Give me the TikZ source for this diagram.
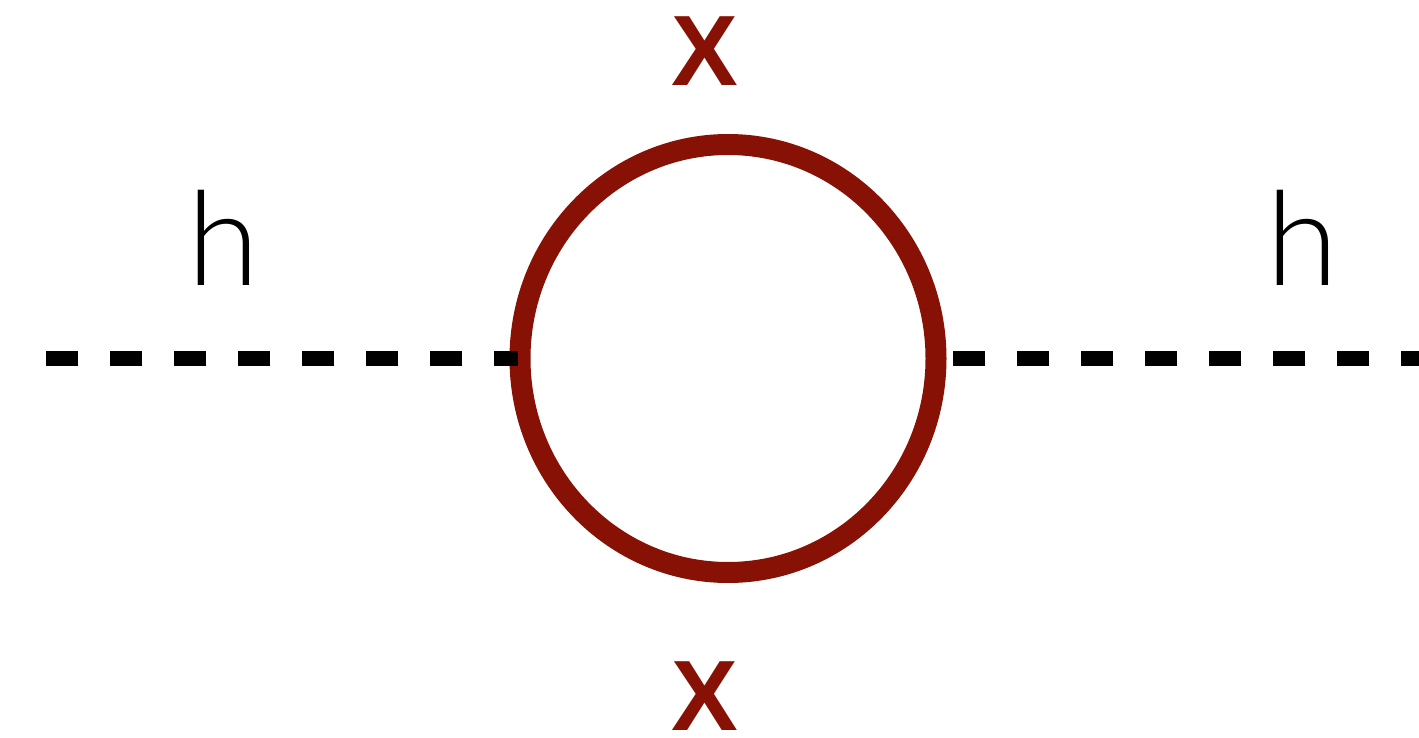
\documentclass[tikz,border=0pt]{standalone}
\usepackage{fontspec}
\usetikzlibrary{shapes.geometric}
\newfontfamily\hfont{Lato Light}
\newfontfamily\xfont{Liberation Sans}
\definecolor{loopred}{RGB}{134,17,4}
\tikzset{
  scalar/.style={line width=15pt, dash pattern=on 32pt off 32pt},
  fermion/.style={draw=loopred, line width=21pt, ellipse, inner sep=0pt, outer sep=0pt},
  hlabel/.style={anchor=base, inner sep=0pt, font=\hfont\fontsize{131}{131}\selectfont},
  xlabel/.style={anchor=base, inner sep=0pt, text=loopred, font=\xfont\bfseries\fontsize{100}{100}\selectfont}
}
\begin{document}
\begin{tikzpicture}[x=1pt,y=-1pt]
\useasboundingbox (0,0) rectangle (1419,738);
\node[fermion, minimum width=416pt, minimum height=428pt] (loop) at (728,358.5) {};
\coordinate (lstart) at (46,358.5);
\coordinate (rend) at (1419,358.5);
\draw[scalar, shorten >=2pt] (lstart) -- (loop.west);
\draw[scalar, dash phase=47pt] (loop.east) -- (rend);
\node[hlabel] (hl) at (224,285) {h};
\node[hlabel] (hr) at (1302.5,285) {h};
\node[xlabel] (xt) at (705,86) {X};
\node[xlabel] (xb) at (705,730.5) {X};
\end{tikzpicture}
\end{document}
